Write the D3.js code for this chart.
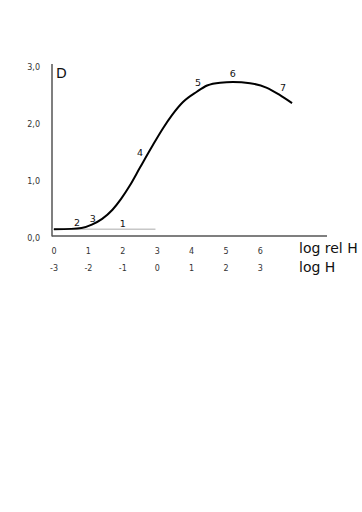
<!DOCTYPE html>
<html>
<head>
<meta charset="utf-8">
<script src="https://cdn.jsdelivr.net/npm/d3@7"></script>
<style>
  body { margin: 0; background: #fff; }
  svg { display: block; font-family: "DejaVu Sans", sans-serif; }
</style>
</head>
<body>
<div id="chart"></div>
<script>
// characteristic curve: log rel H -> density D
const logRelH = [0, 0.5, 0.8, 1.1, 1.4, 1.7, 1.95, 2.2, 2.5, 2.88, 3.17, 3.43, 3.75, 4.15, 4.45, 4.83, 5.2, 5.7, 6.19, 6.57, 6.92];
const density = [0.12, 0.125, 0.14, 0.2, 0.3, 0.46, 0.65, 0.88, 1.2, 1.6, 1.89, 2.12, 2.35, 2.53, 2.64, 2.69, 2.7, 2.68, 2.6, 2.47, 2.33];

const fogFrom = 0, fogTo = 2.95, fogD = 0.12;

const xTicks = [0, 1, 2, 3, 4, 5, 6];
const logHTicks = [-3, -2, -1, 0, 1, 2, 3];
const yTicks = [0, 1, 2, 3];
const yTickLabels = ["0,0", "1,0", "2,0", "3,0"];

// numbered points along the curve
const markNames = ["1", "2", "3", "4", "5", "6", "7"];
const markU = [2.0, 0.67, 1.13, 2.5, 4.19, 5.2, 6.66];
const markD = [0.16, 0.175, 0.245, 1.4, 2.63, 2.79, 2.54];

const width = 362, height = 512;
const svg = d3.select("#chart").append("svg")
  .attr("width", width).attr("height", height);

const x = d3.scaleLinear().domain([0, 1]).range([54, 88.4]);
const y = d3.scaleLinear().domain([0, 3]).range([236, 65]);

// axes
svg.append("line")
  .attr("x1", 52).attr("x2", 52).attr("y1", 64).attr("y2", 236.5)
  .attr("stroke", "#555").attr("stroke-width", 1.5);
svg.append("line")
  .attr("x1", 52).attr("x2", 327).attr("y1", 236).attr("y2", 236)
  .attr("stroke", "#555").attr("stroke-width", 1.5);

// y tick labels
svg.selectAll("text.ytick")
  .data(yTicks)
  .enter().append("text")
  .attr("class", "ytick")
  .attr("x", 40)
  .attr("y", d => y(d) + 5)
  .attr("text-anchor", "end")
  .attr("font-size", "8px")
  .attr("fill", "#333")
  .text((d, i) => yTickLabels[i]);

// x tick labels, two rows
svg.selectAll("text.xtick")
  .data(xTicks)
  .enter().append("text")
  .attr("class", "xtick")
  .attr("x", d => x(d))
  .attr("y", 254)
  .attr("text-anchor", "middle")
  .attr("font-size", "8px")
  .attr("fill", "#333")
  .text(d => d);

svg.selectAll("text.htick")
  .data(xTicks)
  .enter().append("text")
  .attr("class", "htick")
  .attr("x", d => x(d))
  .attr("y", 271)
  .attr("text-anchor", "middle")
  .attr("font-size", "8px")
  .attr("fill", "#333")
  .text((d, i) => logHTicks[i]);

svg.append("text").attr("x", 299).attr("y", 253)
  .attr("font-size", "14px").attr("fill", "#111").text("log rel H");
svg.append("text").attr("x", 299).attr("y", 272)
  .attr("font-size", "14px").attr("fill", "#111").text("log H");
svg.append("text").attr("x", 56).attr("y", 78)
  .attr("font-size", "14px").attr("fill", "#111").text("D");

// fog level line
svg.append("line")
  .attr("x1", x(fogFrom) - 2).attr("x2", x(fogTo))
  .attr("y1", y(fogD)).attr("y2", y(fogD))
  .attr("stroke", "#aaa").attr("stroke-width", 1);

// curve
const line = d3.line()
  .x(d => x(d[0]))
  .y(d => y(d[1]))
  .curve(d3.curveMonotoneX);

svg.append("path")
  .datum(d3.zip(logRelH, density))
  .attr("d", line)
  .attr("fill", "none")
  .attr("stroke", "#000")
  .attr("stroke-width", 2);

// numbered marks
svg.selectAll("text.mark")
  .data(markNames)
  .enter().append("text")
  .attr("class", "mark")
  .attr("x", (d, i) => x(markU[i]))
  .attr("y", (d, i) => y(markD[i]))
  .attr("text-anchor", "middle")
  .attr("font-size", "9.5px")
  .attr("fill", "#111")
  .text(d => d);
</script>
</body>
</html>
